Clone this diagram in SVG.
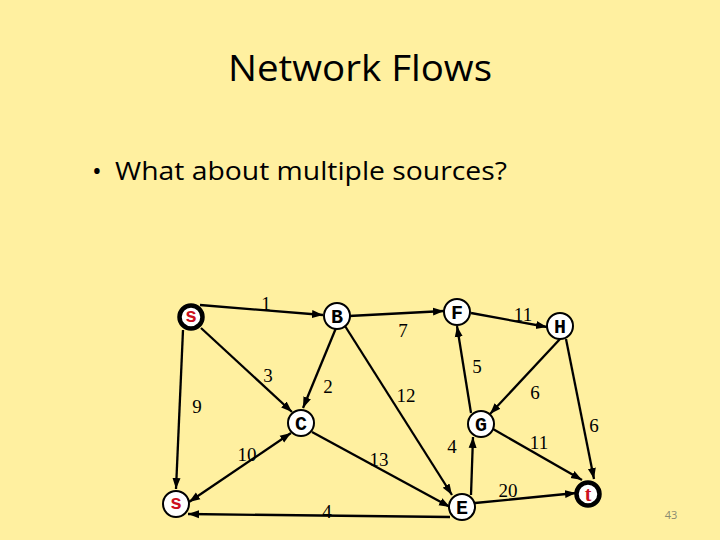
<svg xmlns="http://www.w3.org/2000/svg" width="720" height="540" viewBox="0 0 720 540">
<defs>
<marker id="arr" markerUnits="userSpaceOnUse" markerWidth="12" markerHeight="10" refX="11" refY="4" orient="auto-start-reverse" viewBox="0 0 12 8">
<path d="M0,0 L11,4 L0,8 z" fill="#000"/>
</marker>
<style>
.e{stroke:#000;stroke-width:2.3;fill:none;marker-end:url(#arr)}
.n{fill:#fff;stroke:#000;stroke-width:2}
.nt{fill:#fff;stroke:#000;stroke-width:4.5}
.l{font-family:"Liberation Serif",serif;font-size:19px;fill:#000;text-anchor:middle}
.k{font-family:"Liberation Mono",monospace;font-weight:bold;font-size:20px;fill:#000;text-anchor:middle}
.r{fill:#cc1020}
</style>
</defs>
<rect width="720" height="540" fill="#FFF0A0"/>
<text x="360" y="81" font-family="Open Sans, sans-serif" font-size="37" text-anchor="middle" textLength="264" lengthAdjust="spacingAndGlyphs">Network Flows</text>
<text x="92" y="180" font-family="Open Sans, sans-serif" font-size="26">•</text>
<text x="115" y="180" font-family="Open Sans, sans-serif" font-size="26" textLength="392" lengthAdjust="spacingAndGlyphs">What about multiple sources?</text>
<g id="connectors">
<line class="e" x1="200" y1="305" x2="323" y2="315"/>
<line class="e" x1="201" y1="328" x2="292" y2="412"/>
<line class="e" x1="183" y1="330" x2="176" y2="489"/>
<line class="e" x1="336" y1="328" x2="303" y2="408"/>
<line class="e" x1="345" y1="326" x2="452" y2="495"/>
<line class="e" x1="349" y1="316" x2="444" y2="311"/>
<line class="e" x1="471" y1="313" x2="547" y2="327"/>
<line class="e" x1="471" y1="413" x2="457" y2="326"/>
<line class="e" x1="560" y1="339" x2="490" y2="414"/>
<line class="e" x1="566" y1="339" x2="594" y2="479"/>
<line class="e" x1="471" y1="495" x2="473" y2="437"/>
<line class="e" x1="493" y1="429" x2="582" y2="480"/>
<line class="e" x1="475" y1="503" x2="576" y2="493"/>
<line class="e" x1="312" y1="432" x2="450" y2="507"/>
<line class="e" x1="189" y1="502" x2="291" y2="433" style="marker-start:url(#arr)"/>
<line class="e" x1="450" y1="517" x2="188" y2="514"/>
</g>
<g id="labels">
<text class="l" x="266" y="310">1</text>
<text class="l" x="268" y="382">3</text>
<text class="l" x="197" y="413">9</text>
<text class="l" x="328" y="393">2</text>
<text class="l" x="406" y="402">12</text>
<text class="l" x="403" y="337">7</text>
<text class="l" x="523" y="321">11</text>
<text class="l" x="477" y="373">5</text>
<text class="l" x="535" y="399">6</text>
<text class="l" x="594" y="432">6</text>
<text class="l" x="452" y="453">4</text>
<text class="l" x="539" y="449">11</text>
<text class="l" x="508" y="497">20</text>
<text class="l" x="379" y="466">13</text>
<text class="l" x="247" y="461">10</text>
<text class="l" x="327" y="518">4</text>
</g>
<g id="node-s1"><circle class="nt" cx="191" cy="317" r="11.5"/><text class="k r" x="191" y="322">s</text></g>
<g id="node-B"><circle class="n" cx="337" cy="316" r="13"/><text class="k" x="337" y="323">B</text></g>
<g id="node-F"><circle class="n" cx="457" cy="312" r="13"/><text class="k" x="457" y="319">F</text></g>
<g id="node-H"><circle class="n" cx="560" cy="326" r="13"/><text class="k" x="560" y="333">H</text></g>
<g id="node-C"><circle class="n" cx="301" cy="423" r="13"/><text class="k" x="301" y="430">C</text></g>
<g id="node-G"><circle class="n" cx="481" cy="424" r="13"/><text class="k" x="481" y="431">G</text></g>
<g id="node-E"><circle class="n" cx="462" cy="507" r="13"/><text class="k" x="462" y="514">E</text></g>
<g id="node-t"><circle class="nt" cx="588" cy="494" r="11.5"/><text class="k r" x="588" y="501" style="font-family:'Liberation Serif',serif">t</text></g>
<g id="node-s2"><circle class="n" cx="176" cy="504" r="13"/><text class="k r" x="176" y="509">s</text></g>
<text x="671" y="519" font-family="Open Sans, sans-serif" font-size="11" fill="#8a8a70" text-anchor="middle">43</text>
</svg>
